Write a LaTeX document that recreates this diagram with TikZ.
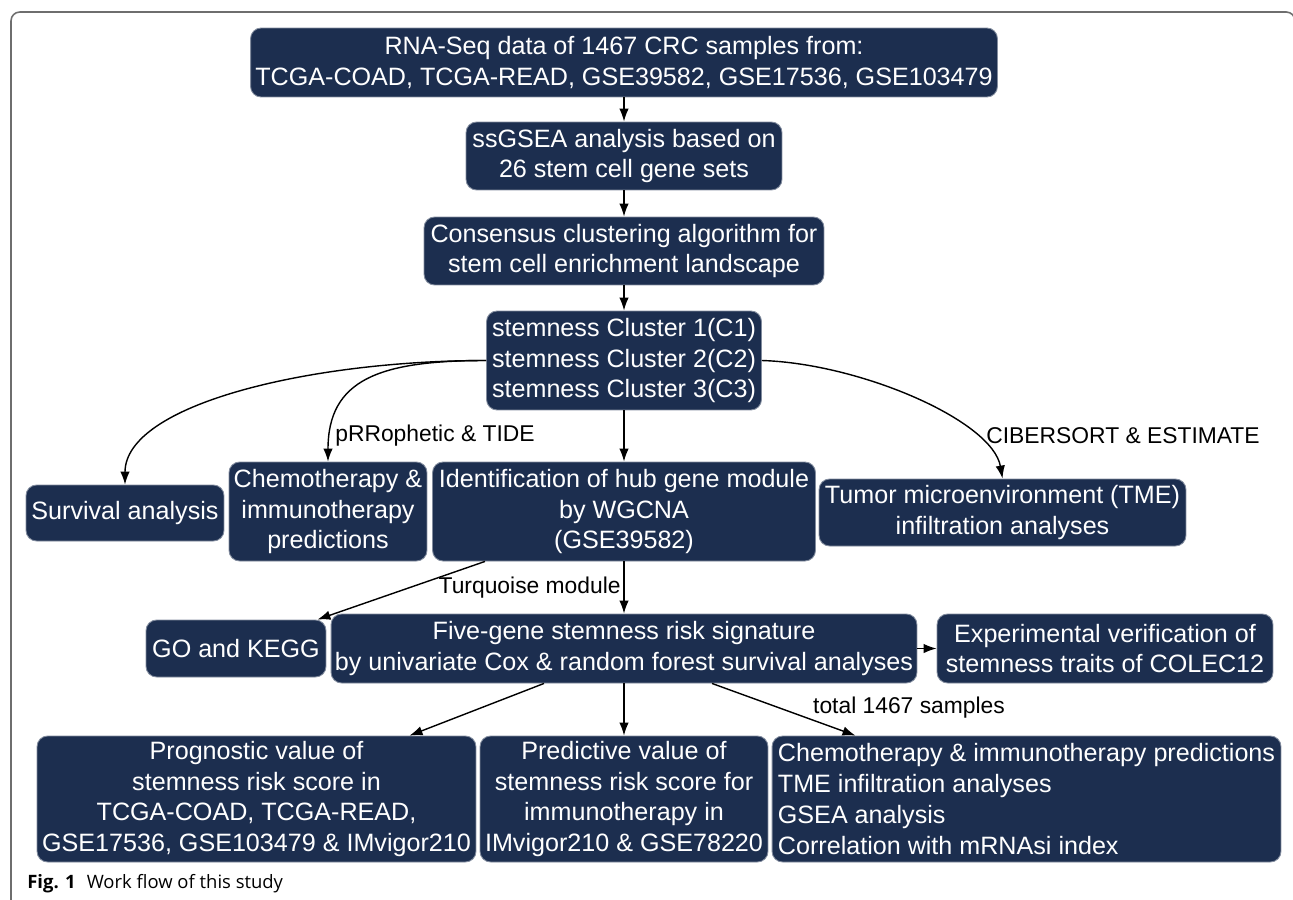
\documentclass[tikz,border=0pt]{standalone}
\usepackage{fontspec}
\setmainfont{Liberation Sans}
\newfontfamily\capfont{Open Sans}
\usetikzlibrary{arrows.meta,calc}
\definecolor{navybox}{RGB}{28,46,79}
\definecolor{framegray}{RGB}{110,110,110}

\begin{document}
\begin{tikzpicture}[x=0.02cm, y=-0.02cm,
    flowbox/.style={fill=navybox, draw=navybox!55!white, line width=0.5pt,
      rounded corners=6pt, text=white, align=center, inner sep=1pt,
      font=\fontsize{14.3}{17.6}\selectfont},
    linklabel/.style={font=\fontsize{13}{15.6}\selectfont, inner sep=0pt},
    flowarrow/.style={-{Latex[length=2.6mm,width=1.9mm]}, line width=0.8pt}]
	\useasboundingbox (0,0) rectangle (1293,899);

	% outer frame
	\draw[framegray, line width=0.9pt, rounded corners=5pt]
	(11,910) -- (11,12) -- (1295,12) -- (1295,910);

	% main column
	\node[flowbox, minimum width=14.94cm, minimum height=1.38cm] (rna) at (624,62.5)
	{RNA-Seq data of 1467 CRC samples from:\\TCGA-COAD, TCGA-READ, GSE39582, GSE17536, GSE103479};
	\node[flowbox, minimum width=6.32cm, minimum height=1.36cm] (ssgsea) at (624,156)
	{ssGSEA analysis based on\\26 stem cell gene sets};
	\node[flowbox, minimum width=8cm, minimum height=1.36cm] (consensus) at (624,251)
	{Consensus clustering algorithm for\\stem cell enrichment landscape};
	\node[flowbox, minimum width=5.5cm, minimum height=1.98cm] (clusters) at (624,360.5)
	{stemness Cluster 1(C1)\\stemness Cluster 2(C2)\\stemness Cluster 3(C3)};

	% second row
	\node[flowbox, minimum width=3.96cm, minimum height=1.12cm] (survival) at (125,513)
	{Survival analysis};
	\node[flowbox, minimum width=3.96cm, minimum height=1.98cm] (chemo) at (328,511.5)
	{Chemotherapy \&\\immunotherapy\\predictions};
	\node[flowbox, minimum width=7.66cm, minimum height=1.98cm] (wgcna) at (624,511.5)
	{Identification of hub gene module\\by WGCNA\\(GSE39582)};
	\node[flowbox, minimum width=7.34cm, minimum height=1.34cm] (tme) at (1002.5,512.5)
	{Tumor microenvironment (TME)\\infiltration analyses};

	% third row
	\node[flowbox, minimum width=3.6cm, minimum height=1.14cm] (gokegg) at (236,648.5)
	{GO and KEGG};
	\node[flowbox, minimum width=11.72cm, minimum height=1.38cm] (fivegene) at (624,648.5)
	{Five-gene stemness risk signature\\by univariate Cox \& random forest survival analyses};
	\node[flowbox, minimum width=6.72cm, minimum height=1.38cm] (verify) at (1105,648.5)
	{Experimental verification of\\stemness traits of COLEC12};

	% bottom row
	\node[flowbox, minimum width=8.78cm, minimum height=2.52cm] (prognostic) at (256.5,799)
	{Prognostic value of\\stemness risk score in\\TCGA-COAD, TCGA-READ,\\GSE17536, GSE103479 \& IMvigor210};
	\node[flowbox, minimum width=5.76cm, minimum height=2.52cm] (predictive) at (624,799)
	{Predictive value of\\stemness risk score for\\immunotherapy in\\IMvigor210 \& GSE78220};
	\node[flowbox, minimum width=10.18cm, minimum height=2.52cm, align=left] (chemolist) at (1026.5,799)
	{Chemotherapy \& immunotherapy predictions\\TME infiltration analyses\\GSEA analysis\\Correlation with mRNAsi index};

	% connectors
	\draw[flowarrow] (rna) -- (ssgsea);
	\draw[flowarrow] (ssgsea) -- (consensus);
	\draw[flowarrow] (consensus) -- (clusters);
	\draw[flowarrow] (clusters) -- (wgcna);
	\draw[flowarrow] (clusters.west) .. controls +(-177,0) and +(0,-80) .. (survival.north);
	\draw[flowarrow] (clusters.west) .. controls +(-107,0) and +(0,-82) .. (chemo.north);
	\draw[flowarrow] (clusters.east) .. controls +(98,3) and +(-10,-58) .. (tme.north);
	\draw[flowarrow] ($(wgcna.south)+(-139,0)$) -- ($(gokegg.north east)+(-9,0)$);
	\draw[flowarrow] (wgcna) -- (fivegene);
	\draw[flowarrow] (fivegene) -- (verify);
	\draw[flowarrow] ($(fivegene.south)+(-80,0)$) -- ($(prognostic.north)+(153,0)$);
	\draw[flowarrow] (fivegene) -- (predictive);
	\draw[flowarrow] ($(fivegene.south)+(88,0)$) -- ($(chemolist.north)+(-171,0)$);

	% connector labels
	\node[linklabel] (tidelabel) at (435,436) {pRRophetic \& TIDE};
	\node[linklabel] (ciberlabel) at (1123,436) {CIBERSORT \& ESTIMATE};
	\node[linklabel, anchor=east] (turqlabel) at (621,588) {Turquoise module};
	\node[linklabel] (totallabel) at (909,708) {total 1467 samples};

	% caption
	\node[anchor=base west, inner sep=0pt, font=\capfont\fontsize{10.5}{12.5}\selectfont] (caption) at (27,888)
	{\textbf{Fig. 1}\hspace{0.6em}Work flow of this study};
\end{tikzpicture}
\end{document}
